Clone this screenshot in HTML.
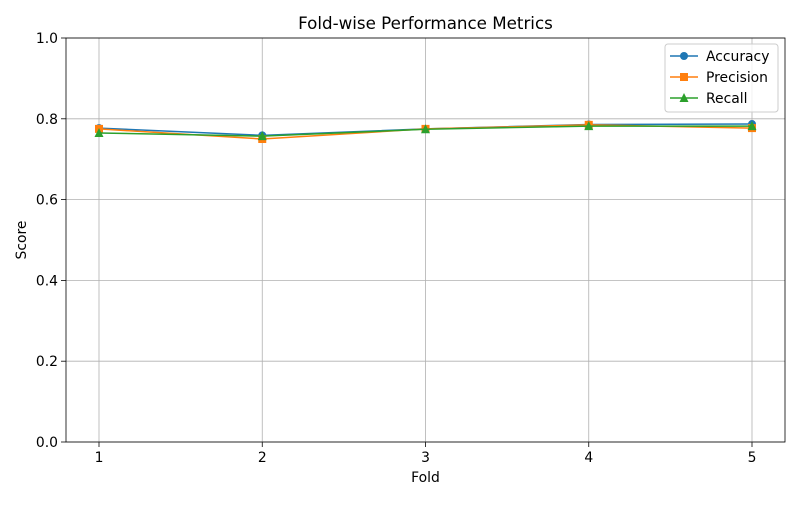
<!DOCTYPE html>
<html><head><meta charset="utf-8"><style>
body{margin:0;background:#fff;font-family:"Liberation Sans","DejaVu Sans",sans-serif}
svg text{font-family:"DejaVu Sans","Liberation Sans",sans-serif}
</style></head><body>
<svg id="chart" width="800" height="500" xmlns="http://www.w3.org/2000/svg"></svg>
<script>
const folds=[1,2,3,4,5];
const accuracy=[0.777,0.759,0.775,0.786,0.787];
const precision=[0.775,0.750,0.775,0.785,0.777];
const recall=[0.765,0.757,0.774,0.782,0.782];
const yTicks=[0.0,0.2,0.4,0.6,0.8,1.0];
const NS="http://www.w3.org/2000/svg";
const svg=document.getElementById('chart');
const L=66,R=785,T=38,B=442;
const xs=f=>99+(f-1)*(752-99)/4;
const ys=v=>B-v*(B-T);
function el(t,a,p){const e=document.createElementNS(NS,t);for(const k in a)e.setAttribute(k,a[k]);(p||svg).appendChild(e);return e;}
folds.forEach(f=>{const g=el('line',{x1:xs(f),x2:xs(f),y1:T,y2:B,stroke:'#b0b0b0','stroke-width':0.8});


el('line',{x1:xs(f),x2:xs(f),y1:B,y2:B+5,stroke:'#000','stroke-width':0.8});
const t=el('text',{x:xs(f),y:B+20,'text-anchor':'middle','font-size':13.9});t.textContent=f;

});
yTicks.forEach(v=>{const g=el('line',{x1:L,x2:R,y1:ys(v),y2:ys(v),stroke:'#b0b0b0','stroke-width':0.8});


el('line',{x1:L-5,x2:L,y1:ys(v),y2:ys(v),stroke:'#000','stroke-width':0.8});
const t=el('text',{x:L-8,y:ys(v)+5,'text-anchor':'end','font-size':13.9});t.textContent=v.toFixed(1);

});
const fr=el('rect',{x:L,y:T,width:R-L,height:B-T,fill:'none',stroke:'#000','stroke-width':0.8});


function marker(type,x,y,c,p){
 if(type==='o')return el('circle',{cx:x,cy:y,r:4,fill:c},p);
 if(type==='s')return el('rect',{x:x-4,y:y-4,width:8,height:8,fill:c},p);
 return el('polygon',{points:`${x},${y-5} ${x-4.5},${y+4} ${x+4.5},${y+4}`,fill:c},p);}
const series=[['Accuracy',accuracy,'#1f77b4','o'],['Precision',precision,'#ff7f0e','s'],['Recall',recall,'#2ca02c','^']];
series.forEach(([n,d,c,m])=>{const g=el('g',{});


el('polyline',{points:d.map((v,i)=>xs(folds[i])+','+ys(v)).join(' '),fill:'none',stroke:c,'stroke-width':1.5},g);
d.forEach((v,i)=>{const k=marker(m,xs(folds[i]),ys(v),c,g);

});});
const lg=el('g',{});


el('rect',{x:665,y:44,width:113,height:68,rx:3,fill:'#fff',stroke:'#ccc','fill-opacity':0.8},lg);
series.forEach(([n,d,c,m],i)=>{const y=56+i*21;
const e=el('g',{},lg);


el('line',{x1:670,x2:698,y1:y,y2:y,stroke:c,'stroke-width':1.5},e);
marker(m,684,y,c,e);
const t=el('text',{x:706,y:y+5,'font-size':13.9},e);t.textContent=n;});
const title=el('text',{x:425.5,y:29,'text-anchor':'middle','font-size':16.7});title.textContent='Fold-wise Performance Metrics';


const xt=el('text',{x:425.5,y:482,'text-anchor':'middle','font-size':13.9});xt.textContent='Fold';


const yt=el('text',{x:26,y:240,'text-anchor':'middle','font-size':13.9,transform:'rotate(-90 26 240)'});yt.textContent='Score';


</script>
</body></html>
